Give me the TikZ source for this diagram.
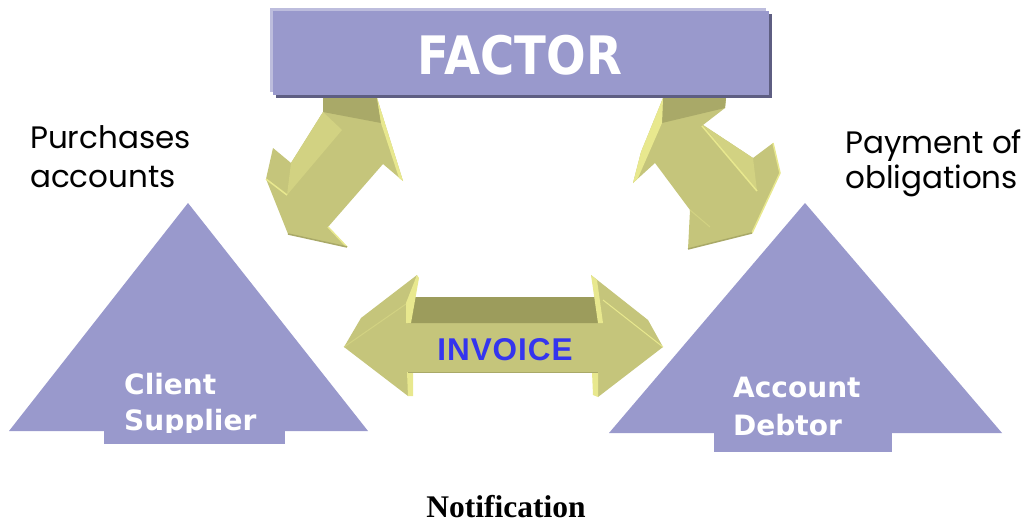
\documentclass[tikz,border=0pt]{standalone}
\usepackage{fontspec}
\setmainfont{Liberation Serif}
\newfontfamily\dejav{DejaVu Sans}
\newfontfamily\invfont{Liberation Sans}[LetterSpace=3]
\newfontfamily\labelf{Poppins}
\definecolor{tri}{HTML}{9999CC}
\definecolor{olive}{HTML}{C5C57B}
\definecolor{olivedark}{HTML}{9C9C5C}
\definecolor{olivemid}{HTML}{A9A968}
\definecolor{olivelight}{HTML}{D2D282}
\definecolor{olivebright}{HTML}{E8E88E}
\definecolor{boxhi}{HTML}{BDBDDD}
\definecolor{boxsh}{HTML}{5E5E82}
\definecolor{invblue}{HTML}{3535EE}
\tikzset{
  face/.style={fill=olive},
  topface/.style={fill=olivemid},
  sideface/.style={fill=olivelight},
  bright/.style={fill=olivebright},
  brightline/.style={draw=olivebright, line width=1.5pt},
  tritext/.style={font=\dejav\bfseries\fontsize{28}{28}\selectfont, text=white, anchor=base west, inner sep=0pt},
  sidelabel/.style={font=\labelf\fontsize{31}{31}\selectfont, anchor=base west, inner sep=0pt},
}
\begin{document}
\begin{tikzpicture}[x=1pt,y=-1pt]
\useasboundingbox (0,0) rectangle (1027,522);
% triangles
\fill[tri] (188,203) -- (368,431) -- (9,431) -- cycle;
\fill[tri] (104,430) rectangle (285,444);
\fill[tri] (805,203) -- (1002,433) -- (609,433) -- cycle;
\fill[tri] (714,432) rectangle (892,452);
% horizontal arrow
\fill[face] (344,347) -- (361,318) -- (417,275) -- (410,297) -- (598,297) -- (591,275)
  -- (648,320) -- (663,347) -- (598,397) -- (598,372) -- (408,372) -- (408,396) -- cycle;
\fill[fill=olivedark] (410,297) -- (598,297) -- (598,323) -- (408,323) -- cycle;
\fill[bright] (417,275) -- (419,278) -- (411,323) -- (406,323) -- (406,303) -- cycle;
\fill[bright] (591,275) -- (597,280) -- (603,323) -- (598,323) -- cycle;
\fill[bright] (407,372) -- (413,372) -- (413,396) -- (408,396) -- cycle;
\fill[bright] (592,372) -- (598,372) -- (598,397) -- (593,395) -- cycle;
\draw[draw=olivelight, line width=1pt] (344,347) -- (406,304);
\draw[draw=olivebright, line width=1pt] (603,300) -- (663,347);
\draw[draw=olivemid, line width=1pt] (408,372) -- (598,372);
% left diagonal arrow
\fill[face] (323,98) -- (377,98) -- (403,181) -- (383,164) -- (328,227) -- (347,247)
  -- (288,234) -- (266,179) -- (273,148) -- (291,163) -- (323,112) -- cycle;
\fill[topface] (323,98) -- (377,98) -- (381,123) -- (323,112) -- cycle;
\fill[sideface] (323,112) -- (342,130) -- (287,195) -- (291,163) -- cycle;
\fill[bright] (377,98) -- (403,181) -- (399,178) -- (381,123) -- cycle;
\draw[brightline] (328,227) -- (347,247);
\draw[brightline] (266,179) -- (287,195);
\draw[draw=olivemid, line width=1.5pt] (288,234) -- (347,247);
% right diagonal arrow
\fill[face] (663,98) -- (726,98) -- (725,108) -- (703,125) -- (753,158) -- (773,143)
  -- (780,173) -- (752,233) -- (688,249) -- (690,210) -- (655,163) -- (633,183)
  -- (641,152) -- cycle;
\fill[topface] (663,98) -- (726,98) -- (725,108) -- (662,123) -- cycle;
\fill[sideface] (703,125) -- (753,158) -- (757,191) -- cycle;
\draw[brightline] (702,126) -- (757,191);
\draw[brightline] (773,143) -- (780,173) -- (752,233);
\fill[bright] (663,98) -- (662,123) -- (638,178) -- (633,183) -- (641,152) -- cycle;
\draw[draw=olivelight, line width=1pt] (690,210) -- (710,227);
\draw[draw=olivemid, line width=1.5pt] (688,249) -- (752,233);
% FACTOR box
\fill[boxsh] (276,14) rectangle (772,98);
\fill[boxhi] (270,8) rectangle (766,92);
\fill[tri] (273,11) rectangle (769,95);
\node[font=\dejav\bfseries\fontsize{53}{53}\selectfont, text=white, inner sep=0pt, anchor=base] (factor) at (520,74) {\scalebox{0.88}[1]{FACTOR}};
% texts
\node[font=\invfont\bfseries\fontsize{31.5}{31.5}\selectfont, text=invblue, inner sep=0pt, anchor=base] (invoice) at (505,360) {INVOICE};
\begin{scope}
\clip (0,0) rectangle (1027,432);
\node[tritext] (client) at (124,394) {Client};
\node[tritext] (supplier) at (124,430) {Supplier};
\end{scope}
\node[tritext] (account) at (733,397) {Account};
\node[tritext] (debtor) at (733,435) {Debtor};
\node[sidelabel] (purch) at (30,148) {Purchases};
\node[sidelabel] (acc) at (30,187) {accounts};
\node[sidelabel] (pay) at (845,153) {Payment of};
\node[sidelabel] (obl) at (845,188) {obligations};
\node[font=\bfseries\fontsize{31.5}{31.5}\selectfont, inner sep=0pt, anchor=base] (notif) at (506,517) {Notification};
\end{tikzpicture}
\end{document}
